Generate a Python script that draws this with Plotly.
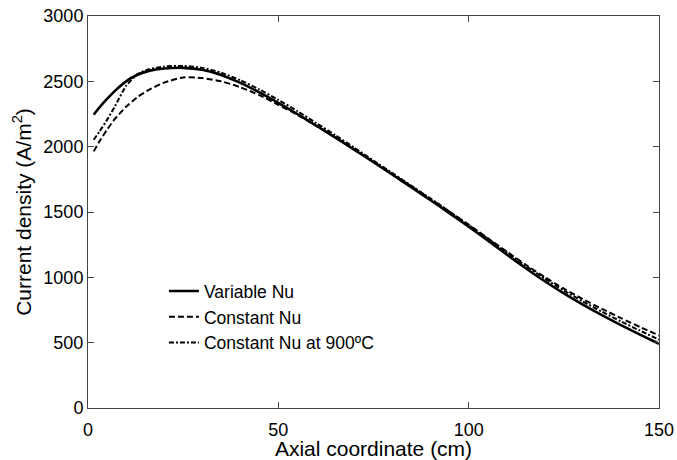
import plotly.graph_objects as go

x_cm = [1.5, 3, 5, 7, 10, 13, 16, 20, 25, 30, 35, 40, 45, 50, 55, 60, 65, 70, 75,
        80, 85, 90, 95, 100, 105, 110, 115, 120, 125, 130, 135, 140, 145, 150]

variable_nu = [2245, 2300, 2365, 2425, 2500, 2550, 2580, 2598, 2603, 2588, 2548, 2488,
               2416, 2336, 2250, 2160, 2069, 1976, 1881, 1785, 1688, 1590, 1490, 1388,
               1282, 1175, 1070, 970, 877, 791, 711, 635, 562, 492]

constant_nu = [1964, 2040, 2130, 2210, 2305, 2380, 2435, 2490, 2530, 2525, 2500, 2455,
               2395, 2320, 2244, 2158, 2069, 1978, 1885, 1791, 1696, 1600, 1502, 1403,
               1300, 1197, 1096, 1001, 913, 833, 759, 688, 620, 555]

constant_nu_900 = [2053, 2115, 2205, 2305, 2465, 2555, 2592, 2613, 2618, 2603, 2566,
                   2508, 2438, 2358, 2272, 2180, 2087, 1991, 1893, 1797, 1700, 1602,
                   1502, 1400, 1296, 1191, 1088, 990, 899, 815, 737, 663, 592, 523]

names = ["Variable Nu", "Constant Nu", "Constant Nu at 900ºC"]
x_ticks = [0, 50, 100, 150]
y_ticks = [0, 500, 1000, 1500, 2000, 2500, 3000]

FONT = "Liberation Sans, Arial, Helvetica, sans-serif"

fig = go.Figure()
styles = [("solid", 2.6), ("6px,3px", 2), ("5px,2px,2px,2px", 2)]
for i, (series, name) in enumerate(zip([variable_nu, constant_nu, constant_nu_900], names)):
    dash, w = styles[i]
    fig.add_trace(go.Scatter(
        x=x_cm, y=series, mode="lines", name=name, legendgroup=f"g{i}",
        line=dict(color="black", width=w, dash=dash, shape="spline", smoothing=0.6),
    ))

axis_common = dict(
    showgrid=False, zeroline=False, showline=True, linecolor="#444", linewidth=1,
    mirror="ticks", ticks="inside", ticklen=6, tickcolor="#444", automargin=False,
    ticklabeloverflow="allow",
    tickfont=dict(family=FONT, size=18, color="black"),
)

fig.update_layout(
    width=677, height=460,
    margin=dict(l=88.3, r=17.7, t=16.2, b=51.5),
    paper_bgcolor="white", plot_bgcolor="white",
    font=dict(family=FONT, color="black"),
    xaxis=dict(range=[0, 150], tickvals=x_ticks, ticklabelstandoff=5,
               title=dict(text="Axial coordinate (cm)", font=dict(size=21), standoff=0),
               **axis_common),
    yaxis=dict(range=[0, 3000], tickvals=y_ticks,
               title=dict(text="Current density (A/m<sup>2</sup>)", font=dict(size=21), standoff=6),
               **axis_common),
    legend=dict(x=0.133, y=0.344, xanchor="left", yanchor="top",
                bgcolor="rgba(0,0,0,0)", font=dict(family=FONT, size=17.5),
                traceorder="grouped", tracegroupgap=0),
    showlegend=True,
)

# remove the browser's default body margin so the figure fills the window exactly
fig.write_html("out.html",
               config={"displayModeBar": False},
               post_script="document.body.style.margin='0';document.body.style.overflow='hidden';")
